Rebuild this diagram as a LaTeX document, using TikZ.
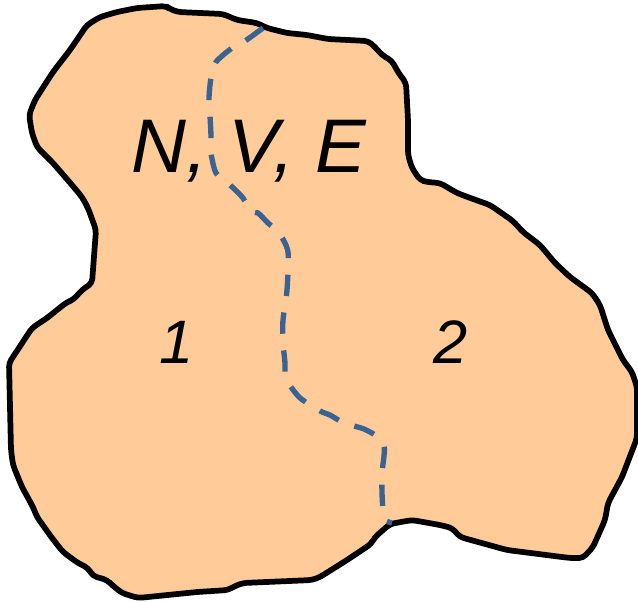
\documentclass[tikz,border=0pt]{standalone}
\usepackage{fontspec}
\setmainfont{Liberation Sans}
\definecolor{blobfill}{HTML}{FFCC99}
\definecolor{divider}{HTML}{3A6392}
\tikzset{
  blob/.style={draw=black,fill=blobfill,line width=4.3pt,line join=round,rounded corners=3pt},
  partition/.style={draw=divider,line width=4pt,dash pattern=on 16pt off 12.5pt},
  lblbig/.style={font=\itshape\fontsize{57pt}{57pt}\selectfont,inner sep=0pt,text=black},
  lblnum/.style={font=\itshape\fontsize{46pt}{46pt}\selectfont,inner sep=0pt,text=black}
}
\begin{document}
\begin{tikzpicture}[x=0.75pt,y=-0.75pt]
\useasboundingbox (0,0) rectangle (638,601);
\draw[blob] (166,6) -- (170,9) -- (178,12) -- (223,14) -- (237,20) -- (257,23) -- (267,28) -- (287,33) -- (307,35) -- (328,39) -- (368,41) -- (375,47) -- (382,55) -- (392,61) -- (398,72) -- (406,83) -- (408,120) -- (408,155) -- (412,168) -- (420,180) -- (427,182) -- (440,183) -- (457,193) -- (473,199) -- (490,205) -- (513,221) -- (523,232) -- (540,245) -- (555,263) -- (570,277) -- (592,293) -- (600,305) -- (608,330) -- (623,360) -- (632,372) -- (637,387) -- (637,438) -- (622,477) -- (608,503) -- (605,520) -- (593,547) -- (583,558) -- (570,558) -- (507,550) -- (460,537) -- (452,528) -- (440,525) -- (412,520) -- (390,524) -- (375,537) -- (371,544) -- (347,560) -- (320,577) -- (312,580) -- (243,583) -- (235,586) -- (228,590) -- (197,592) -- (138,598) -- (122,593) -- (112,585) -- (107,580) -- (93,576) -- (88,568) -- (78,563) -- (63,552) -- (52,538) -- (37,517) -- (33,507) -- (22,487) -- (13,465) -- (11,450) -- (9,363) -- (32,328) -- (47,318) -- (67,302) -- (73,300) -- (82,290) -- (92,283) -- (96,230) -- (88,208) -- (82,197) -- (72,185) -- (53,163) -- (37,147) -- (32,133) -- (29,115) -- (35,100) -- (53,72) -- (70,50) -- (87,25) -- (100,17) -- (117,12) -- (137,8) -- cycle;
\coordinate (top) at (263,28);
\coordinate (bottom) at (392,523);
\draw[partition] plot[smooth,tension=0.45] coordinates {
(top)(245,41)(232,48)(216,62)(211,78)(209,98)(210,116)(211,136)(211,153)(216,173)(228,183)(243,198)(250,211)(258,213)(268,223)(279,233)(288,252)(287,290)(283,320)(283,342)(285,363)(286,379)(299,397)(312,406)(322,412)(330,415)(344,423)(364,429)(378,437)(384,446)(384,456)(382,473)(382,493)(383,510)(385,520)(bottom)};
\node[lblbig,anchor=base west] (nve) at (131,172) {N, V, E};
\node[lblnum,anchor=base] (one) at (177,363) {1};
\node[lblnum,anchor=base] (two) at (451,363) {2};
\end{tikzpicture}
\end{document}
